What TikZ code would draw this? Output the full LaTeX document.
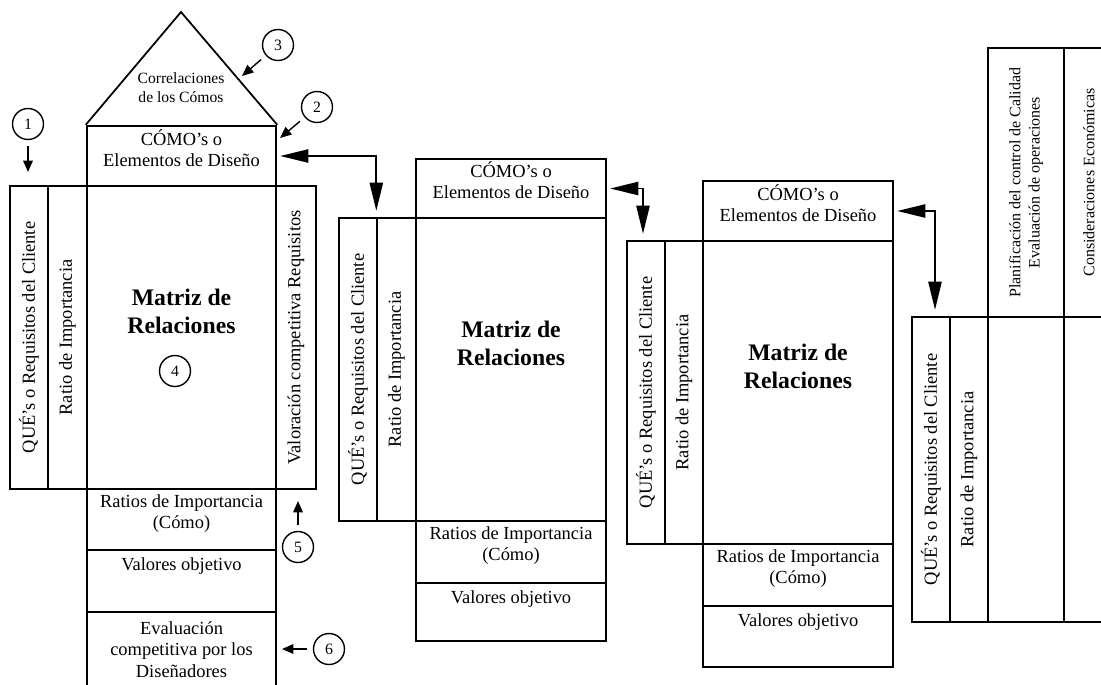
\documentclass[tikz,border=0pt]{standalone}
\usepackage{fontspec}
\setmainfont{Liberation Serif}
\usetikzlibrary{positioning,arrows.meta,fit}

\begin{document}
\begin{tikzpicture}[
  x=0.02cm, y=-0.02cm,
  every node/.style={font=\fontsize{10.5}{12}\selectfont},
  cell/.style={draw, line width=1.4pt, inner sep=0pt, align=center},
  bigcell/.style={cell, line width=1.6pt},
  vtext/.style={rotate=90, align=center, inner sep=0pt},
  mtext/.style={align=center, font=\fontsize{13.5}{16}\selectfont\bfseries},
  marca/.style={circle, draw, line width=0.8pt, minimum size=0.62cm, inner sep=0pt,
    font=\fontsize{9}{10}\selectfont},
  nota/.style={-{Triangle[length=6.5pt,width=5.5pt]}, line width=0.8pt, shorten <=3.5pt},
  enlace/.style={{Triangle[length=16pt,width=7.5pt]}-{Triangle[length=16pt,width=7.5pt]},
    line width=1.1pt, shorten <=1.7pt, shorten >=3.4pt}]
  \useasboundingbox (0,0) rectangle (1101,684);

  % first house
  \node[cell, fit={(87,126) (276,186)}] (comoA) {CÓMO's o\\Elementos de Diseño};
  \node[cell, fit={(10,186) (48,489)}]  (queA) {};
  \node[cell, fit={(48,186) (87,489)}]  (ratA) {};
  \node[cell, fit={(276,186) (316,489)}] (valA) {};
  \node[bigcell, fit={(87,186) (276,489)}] (matA) {};
  \node[cell, fit={(87,489) (276,550)}] (impA) {Ratios de Importancia\\(Cómo)};
  \node[cell, fit={(87,550) (276,612)}] (objA) {};
  \node[cell, fit={(87,612) (276,700)}] (evaA) {Evaluación\\competitiva por los\\Diseñadores};
  \node[vtext] (tQueA) at (queA.center) {QUÉ's o Requisitos del Cliente};
  \node[vtext] (tRatA) at (ratA.center) {Ratio de Importancia};
  \node[vtext] (tValA) at (valA.center) {Valoración competitiva Requisitos};
  \node[mtext] (tMatA) at ([yshift=0.52cm]matA.center) {Matriz de\\Relaciones};
  \node (tObjA) at ([yshift=-0.34cm]objA.north) {Valores objetivo};
  % roof
  \coordinate (apex) at (181,12);
  \draw[line width=1pt] (comoA.north west) -- (apex) -- (comoA.north east);
  \node[align=center, font=\fontsize{8.9}{10.8}\selectfont] (tRoof) at (181,88)
    {Correlaciones\\de los Cómos};

  % second house
  \node[cell, fit={(416,159) (606,218)}] (comoB) {CÓMO's o\\Elementos de Diseño};
  \node[cell, fit={(339,218) (377,521)}] (queB) {};
  \node[cell, fit={(377,218) (416,521)}] (ratB) {};
  \node[cell, fit={(416,218) (606,521)}] (matB) {};
  \node[cell, fit={(416,521) (606,583)}] (impB) {Ratios de Importancia\\(Cómo)};
  \node[cell, fit={(416,583) (606,641)}] (objB) {};
  \node[vtext] (tQueB) at (queB.center) {QUÉ's o Requisitos del Cliente};
  \node[vtext] (tRatB) at (ratB.center) {Ratio de Importancia};
  \node[mtext] (tMatB) at ([yshift=0.52cm]matB.center) {Matriz de\\Relaciones};
  \node (tObjB) at ([yshift=-0.34cm]objB.north) {Valores objetivo};

  % third house
  \node[cell, fit={(703,181) (893,241)}] (comoC) {CÓMO's o\\Elementos de Diseño};
  \node[cell, fit={(627,241) (665,544)}] (queC) {};
  \node[cell, fit={(665,241) (703,544)}] (ratC) {};
  \node[cell, fit={(703,241) (893,544)}] (matC) {};
  \node[cell, fit={(703,544) (893,606)}] (impC) {Ratios de Importancia\\(Cómo)};
  \node[cell, fit={(703,606) (893,667)}] (objC) {};
  \node[vtext] (tQueC) at (queC.center) {QUÉ's o Requisitos del Cliente};
  \node[vtext] (tRatC) at (ratC.center) {Ratio de Importancia};
  \node[mtext] (tMatC) at ([yshift=0.52cm]matC.center) {Matriz de\\Relaciones};
  \node (tObjC) at ([yshift=-0.34cm]objC.north) {Valores objetivo};

  % fourth house
  \node[cell, fit={(912,317) (950,622)}]   (queD) {};
  \node[cell, fit={(950,317) (988,622)}]   (ratD) {};
  \node[cell, fit={(988,317) (1064,622)}]  (planD) {};
  \node[cell, fit={(1064,317) (1114,622)}] (consD) {};
  \node[cell, fit={(988,48) (1064,317)}]   (planH) {};
  \node[cell, fit={(1064,48) (1114,317)}]  (consH) {};
  \node[vtext] (tQueD) at (queD.center) {QUÉ's o Requisitos del Cliente};
  \node[vtext] (tRatD) at (ratD.center) {Ratio de Importancia};
  \node[vtext, font=\fontsize{9.1}{11}\selectfont] (tPlanH) at (planH.center)
    {Planificación del control de Calidad\\Evaluación de operaciones};
  \node[vtext, font=\fontsize{9.1}{11}\selectfont] (tConsH) at (consH.center)
    {Consideraciones Económicas};

  % links between houses
  \draw[enlace] (comoA.east) -| ([xshift=-1.1pt]queB.north east);
  \draw[enlace] (comoB.east) -| ([xshift=-0.06cm]queC.north);
  \draw[enlace] (comoC.east) -| ([xshift=0.08cm]queD.north);

  % numbered marks
  \node[marca] (m1) at (28,124) {1};
  \node[marca] (m2) at (317,107) {2};
  \node[marca] (m3) at (278,45) {3};
  \node[marca] (m4) at (175,371) {4};
  \node[marca] (m5) at (298,547) {5};
  \node[marca] (m6) at (329,649) {6};
  \coordinate (p1) at (28,172);
  \coordinate (p2) at (280,138);
  \coordinate (p3) at (242,76);
  \coordinate (p5) at (298,501);
  \coordinate (p6) at (282,649);
  \draw[nota] (m1) -- (p1);
  \draw[nota] (m2) -- (p2);
  \draw[nota] (m3) -- (p3);
  \draw[nota] (m5) -- (p5);
  \draw[nota] (m6) -- (p6);
\end{tikzpicture}
\end{document}
